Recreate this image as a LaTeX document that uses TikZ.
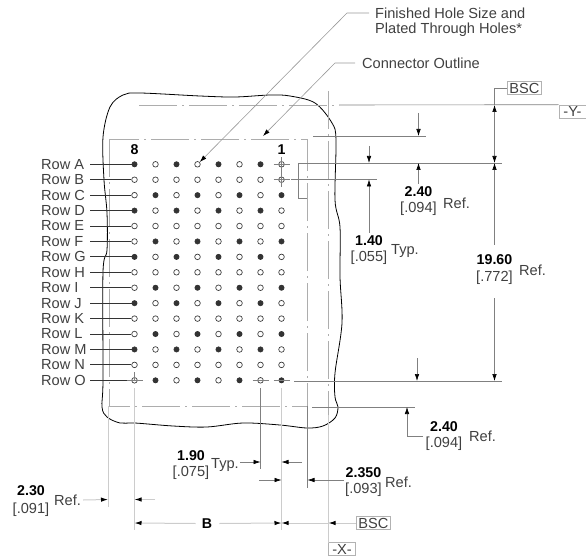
\documentclass[tikz,border=0pt]{standalone}
\usepackage{fontspec}
\setmainfont{Liberation Sans}
\usetikzlibrary{arrows.meta}
\tikzset{
  every node/.style={font=\fontsize{14.6}{17}\selectfont, text=black!75, inner sep=0pt},
  hole0/.style={draw=black!75, circle, fill=white, line width=0.7pt, minimum size=5.6pt},
  hole1/.style={draw=black!80, circle, fill=black!80, line width=0.7pt, minimum size=5.2pt},
  rowline/.style={draw=black!80, line width=0.8pt},
  thinline/.style={draw=black!50, line width=0.6pt},
  paleline/.style={draw=black!20, line width=1pt},
  centerline/.style={draw=black!32, line width=0.7pt, dash pattern=on 38pt off 5pt on 2pt off 5pt},
  tipdim/.style={thinline, -{Latex[length=7pt,width=4.5pt,black]}},
  bothdim/.style={thinline, {Latex[length=7pt,width=4.5pt,black]}-{Latex[length=7pt,width=4.5pt,black]}},
  paletip/.style={paleline, -{Latex[length=7pt,width=4.5pt,black]}},
  boxlabel/.style={draw=black!30, line width=0.6pt, minimum height=13pt, inner xsep=2pt},
  bignum/.style={font=\fontsize{14.2}{17}\selectfont\bfseries, text=black},
}
\begin{document}
\begin{tikzpicture}[x=1pt,y=-1pt]
    \useasboundingbox (0,0) rectangle (586,556);
    % connector outline
    \draw[line width=0.8pt, black] plot[smooth cycle, tension=0.55] coordinates {
        (140,93) (200,96) (235,97) (270,95) (290,96) (315,103) (332,123) (336,140)
        (335,200) (340,227) (340,277) (342,323) (335,373) (335,397) (338,407) (335,418)
        (323,426) (307,428) (280,425) (243,423) (207,427) (173,426) (135,423) (120,423)
        (107,417) (102,407) (103,380) (103,272) (107,250) (107,213) (104,180) (103,137)
        (110,107) (123,95)};
    % center lines
    \draw[centerline] (109,139) rectangle (307,406);
    \draw[centerline] (139,105) -- (339,105);
    \draw[centerline] (328.5,91) -- (328.5,415);
    % holes and rows
    \foreach \rowname/\kind [count=\i from 0] in {A/1,B/0,C/2,D/1,E/0,F/2,G/1,H/0,I/2,J/1,K/0,L/2,M/1,N/0,O/2}{
        \pgfmathsetmacro\yy{164.3+\i*15.43}
        \node[anchor=west] (row\rowname) at (41,\yy) {Row \rowname};
        \coordinate (lead\rowname) at (90,\yy);
        \foreach \c in {0,...,7}{
            \pgfmathsetmacro\xx{134.5+\c*21}
            \pgfmathtruncatemacro\solid{(\kind>0)&&(mod(\c+\kind,2)==1)}
            \node[hole\solid] (hole\rowname\c) at (\xx,\yy) {};
        }
        \draw[rowline] (lead\rowname) -- (hole\rowname0);
    }
    \node[bignum] (pinEight) at (134.5,150) {8};
    \node[bignum] (pinOne) at (281.5,150) {1};
    % hole cross marks
    \foreach \h in {A7,B7,O0,O6,O7}{
        \draw[thinline] (hole\h.center) ++(-8,0) -- ++(16,0);
    }
    \draw[thinline] (holeA7.center) ++(0,-7) -- (holeB7.center) -- ++(0,7);
    \draw[thinline] (holeO0.center) ++(0,-8) -- (holeO0.center);
    % leader labels
    \node[anchor=west] (holeNote) at (375,13) {Finished Hole Size and};
    \node[anchor=west] at (375,30) {Plated Through Holes*};
    \node[anchor=west] (outlineNote) at (362,63) {Connector Outline};
    \coordinate (outlineTip) at (263,136);
    \draw[thinline, draw=black!40, -{Latex[length=7pt,width=4.5pt,black]}] ([xshift=-6pt]holeNote.west) -- (347,13) -- (holeA3.north east);
    \draw[thinline, draw=black!40, -{Latex[length=7pt,width=4.5pt,black]}] ([xshift=-7pt]outlineNote.west) -- (335,63) -- (outlineTip);
    % datum boxes
    \node[boxlabel] (bscY) at (524.5,88) {BSC};
    \node[boxlabel, minimum width=27pt] (datumY) at (572.5,111.5) {-Y-};
    \node[boxlabel] (bscX) at (373.5,523) {BSC};
    \node[boxlabel, minimum width=27pt] (datumX) at (342,549) {-X-};
    % extension lines, right side
    \coordinate (topY) at (494.5,105);
    \coordinate (edgeTop) at (494.5,163);
    \coordinate (edgeRowB) at (369,179.5);
    \coordinate (edgeRowO) at (494.5,381);
    \coordinate (edgeInner) at (418.5,136);
    \draw[thinline] (339,105) -- (datumY.north west);
    \draw[thinline] (313,136) -- (426,136);
    \draw[thinline] (298,163) -- (502,163);
    \draw[thinline] (291,179.5) -- (377,179.5);
    \draw[thinline] (294,381) -- (502,381);
    \draw[thinline] (312,407) -- (415,407);
    \draw[thinline] (298,163) -- (298,198) -- (307,198);
    % vertical dimensions
    \node[bignum] (upperNum) at (418.5,192) {2.40};
    \node (upperInch) at (418.5,209) {[.094]};
    \node[anchor=west] at (443,203) {Ref.};
    \node[bignum] (typNum) at (369,241) {1.40};
    \node (typInch) at (369,258) {[.055]};
    \node[anchor=west] at (391,251) {Typ.};
    \node[bignum] (tallNum) at (494.5,260) {19.60};
    \node (tallInch) at (494.5,278) {[.772]};
    \node[anchor=west] at (519,270) {Ref.};
    \node[bignum] (lowerNum) at (444,427) {2.40};
    \node (lowerInch) at (444,444) {[.094]};
    \node[anchor=west] (lowerRef) at (469,436) {Ref.};
    \draw[thinline] (bscY.west) -| (topY);
    \draw[bothdim] (topY) -- (edgeTop);
    \draw[tipdim] (tallNum.north) ++(0,-10) -- (edgeTop);
    \draw[tipdim] (tallInch.south) ++(0,13) -- (edgeRowO);
    \draw[tipdim] (418.5,113) -- (edgeInner);
    \draw[tipdim] (upperNum.north) ++(0,-3) -- (418.5,163);
    \draw[tipdim] (369,146) -- (369,163);
    \draw[tipdim] (typNum.north) ++(0,-3) -- (edgeRowB);
    \draw[tipdim] (417,358) -- (417,381);
    \draw[tipdim] (423,436) -- (407,436) -- (407,407);
    % extension lines, bottom
    \draw[thinline] (260.5,388) -- (260.5,469);
    \draw[thinline] (307.5,406) -- (307.5,488);
    \draw[paleline] (281.5,388) -- (281.5,530);
    \draw[paleline] (328.5,415) -- (328.5,543);
    \draw[paleline] (108,406) -- (108,507);
    \draw[paleline] (134.5,388) -- (134.5,530);
    % horizontal dimensions
    \node[bignum] (leftNum) at (31,491) {2.30};
    \node (leftInch) at (31,510) {[.091]};
    \node[anchor=west] (leftRef) at (54,500) {Ref.};
    \node[bignum] (pitchNum) at (191,456) {1.90};
    \node (pitchInch) at (191,473) {[.075]};
    \node[anchor=west] (pitchRef) at (211,465) {Typ.};
    \node[bignum] (sideNum) at (363.5,473) {2.350};
    \node (sideInch) at (363.5,490) {[.093]};
    \node[anchor=west] at (385,482) {Ref.};
    \node[bignum] (spanB) at (207,524) {B};
    \draw[paletip] (leftRef.east) ++(2,0) -- (108,499.5);
    \draw[paletip] (155,499.5) -- (134.5,499.5);
    \draw[paletip] (spanB.west) ++(-6,-0.5) -- (134.5,523);
    \draw[paletip] (spanB.east) ++(7,-0.5) -- (281.5,523);
    \draw[paletip] (328.5,523) -- (281.5,523);
    \draw[paletip] (bscX.west) -- (328.5,523);
    \draw[tipdim] (240,462) -- (260.5,462);
    \draw[tipdim] (302,462) -- (281.5,462);
    \draw[tipdim] (259,480) -- (281.5,480);
    \draw[tipdim] (344,480) -- (307.5,480);
\end{tikzpicture}
\end{document}
